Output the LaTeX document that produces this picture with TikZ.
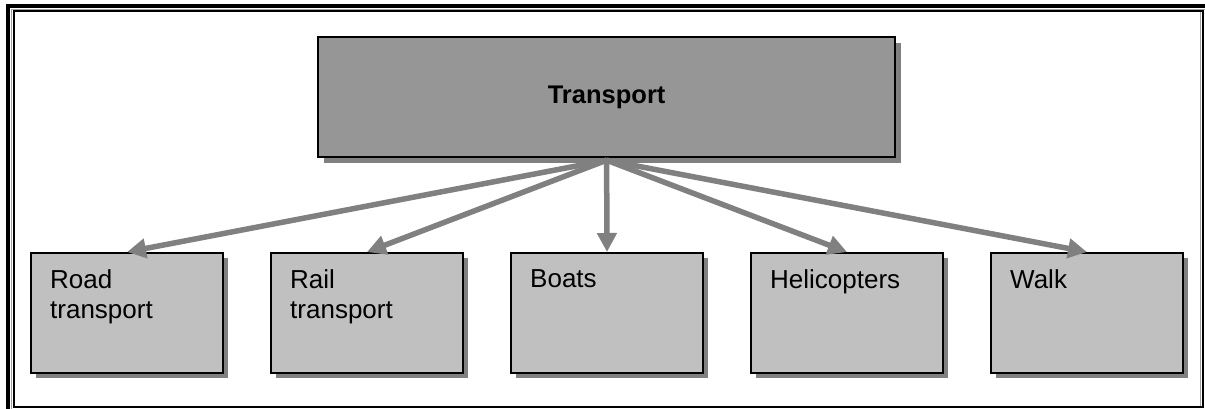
\documentclass[tikz,border=0pt]{standalone}
\usepackage{fontspec}
\setmainfont{Liberation Sans}
\usetikzlibrary{arrows.meta,shadows}

\definecolor{topfill}{HTML}{969696}
\definecolor{boxfill}{HTML}{C0C0C0}
\definecolor{shade}{HTML}{808080}
\definecolor{framegray}{HTML}{A0A0A0}

\tikzset{
  topbox/.style={draw=black, line width=2.2pt, fill=topfill,
    minimum width=577pt, minimum height=120pt, inner sep=0pt,
    anchor=north west,
    font=\fontsize{25.5}{30}\selectfont\bfseries,
    drop shadow={shadow xshift=6pt, shadow yshift=-6pt, fill=shade, opacity=1}},
  leafbox/.style={draw=black, line width=2pt, fill=boxfill,
    minimum width=192pt, minimum height=120pt, inner sep=0pt,
    anchor=north west,
    drop shadow={shadow xshift=5pt, shadow yshift=-5pt, fill=shade, opacity=1}},
  leaftext/.style={anchor=north west, align=left, inner sep=0pt,
    font=\fontsize{26}{30.5}\selectfont},
  link/.style={draw=shade, line width=5.5pt,
    -{Triangle[length=19pt,width=19pt]}}
}

\begin{document}
\begin{tikzpicture}[x=1pt,y=-1pt]
  \useasboundingbox (0,0) rectangle (1205,408);

  % page frame
  \draw[black, line width=4pt] (8,420) -- (8,6) -- (1215,6);
  \draw[framegray, line width=1.2pt] (11.6,420) -- (11.6,9.5) -- (1215,9.5);
  \draw[framegray, line width=1.2pt] (1200.8,11) -- (1200.8,406);
  \draw[black, line width=2.3pt] (14.2,11) rectangle (1203.2,406.7);

  % root
  \node[topbox] (transport) at (317,36) {Transport};

  % children
  \node[leafbox] (road)  at (30,252)  {};
  \node[leafbox] (rail)  at (270,252) {};
  \node[leafbox] (boats) at (510,252) {};
  \node[leafbox] (heli)  at (750,252) {};
  \node[leafbox] (walk)  at (990,252) {};

  \node[leaftext] (road-t)  at ([shift={(20,17.4)}]road.north west)  {Road\\transport};
  \node[leaftext] (rail-t)  at ([shift={(20,17.4)}]rail.north west)  {Rail\\transport};
  \node[leaftext] (boats-t) at ([shift={(20,17.4)}]boats.north west) {Boats};
  \node[leaftext] (heli-t)  at ([shift={(20,17.4)}]heli.north west)  {Helicopters};
  \node[leaftext] (walk-t)  at ([shift={(20,17.4)}]walk.north west)  {Walk};

  % connectors
  \coordinate (hub) at ([yshift=-2]transport.south);
  \foreach \t in {road,rail,boats,heli,walk}
    \draw[link] (hub) -- (\t.north);
\end{tikzpicture}
\end{document}
